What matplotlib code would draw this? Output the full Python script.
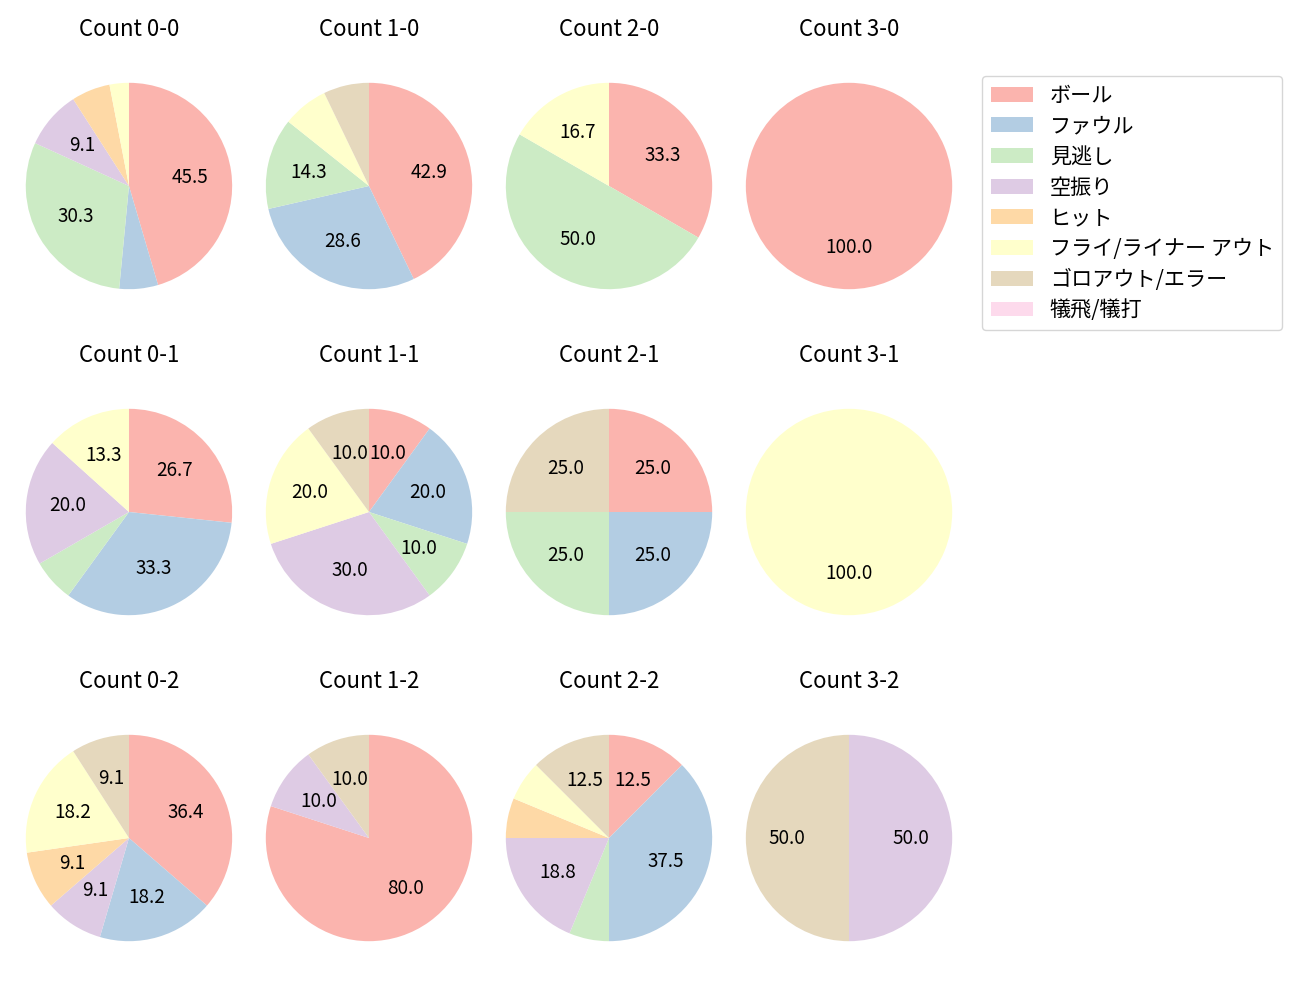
import matplotlib
matplotlib.use("Agg")
import matplotlib.pyplot as plt

plt.rcParams['font.family'] = ['Noto Sans CJK JP', 'DejaVu Sans']
plt.rcParams['font.size'] = 13.6

categories = ['ボール', 'ファウル', '見逃し', '空振り', 'ヒット',
              'フライ/ライナー アウト', 'ゴロアウト/エラー', '犠飛/犠打']

# pitch counts per ball-strike count, in category order
count_0_0 = [15, 2, 10, 3, 2, 1, 0, 0]
count_1_0 = [6, 4, 2, 0, 0, 1, 1, 0]
count_2_0 = [2, 0, 3, 0, 0, 1, 0, 0]
count_3_0 = [1, 0, 0, 0, 0, 0, 0, 0]
count_0_1 = [4, 5, 1, 3, 0, 2, 0, 0]
count_1_1 = [1, 2, 1, 3, 0, 2, 1, 0]
count_2_1 = [1, 1, 1, 0, 0, 0, 1, 0]
count_3_1 = [0, 0, 0, 0, 0, 1, 0, 0]
count_0_2 = [4, 2, 0, 1, 1, 2, 1, 0]
count_1_2 = [8, 0, 0, 1, 0, 0, 1, 0]
count_2_2 = [2, 6, 1, 3, 1, 1, 2, 0]
count_3_2 = [0, 0, 0, 1, 0, 0, 1, 0]

grid = [
    [('0-0', count_0_0), ('1-0', count_1_0), ('2-0', count_2_0), ('3-0', count_3_0)],
    [('0-1', count_0_1), ('1-1', count_1_1), ('2-1', count_2_1), ('3-1', count_3_1)],
    [('0-2', count_0_2), ('1-2', count_1_2), ('2-2', count_2_2), ('3-2', count_3_2)],
]

colors = plt.get_cmap('Pastel1').colors[:len(categories)]


def pct_label(p):
    return f'{p:.1f}' if p >= 8 else ''


fig, axes = plt.subplots(3, 4, figsize=(13, 10), dpi=100)

for r, row in enumerate(grid):
    for c, (name, vals) in enumerate(row):
        ax = axes[r, c]
        ax.pie(vals, colors=colors, startangle=90, counterclock=False,
               autopct=pct_label)
        ax.axis('equal')
        ax.set_title(f'Count {name}', fontsize=16)

axes[0, 3].legend(categories, loc='upper left', bbox_to_anchor=(1.04, 0.926),
                  fontsize=15.2, labelspacing=0.41)

plt.subplots_adjust(left=0.0119, right=0.7404, top=0.9553, bottom=0.0207,
                    wspace=0.0573, hspace=0.1536)
plt.savefig('out.png')
